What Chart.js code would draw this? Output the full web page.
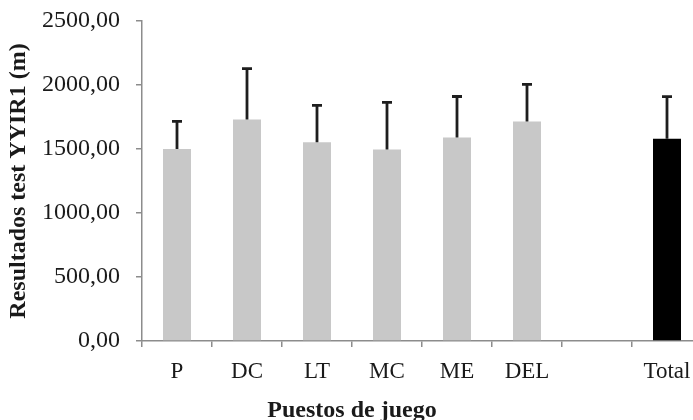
<!DOCTYPE html>
<html>
<head>
<meta charset="utf-8">
<script src="https://cdn.jsdelivr.net/npm/chart.js@4.4.0/dist/chart.umd.min.js"></script>
<style>
  html, body { margin: 0; padding: 0; overflow: hidden; background: #fff; width: 693px; height: 420px; }
  #wrap { position: absolute; left: 0; top: 0; width: 702px; height: 420px; }
</style>
</head>
<body>
<div id="wrap"><canvas id="c" width="702" height="420"></canvas></div>
<script>
const categories = ['P', 'DC', 'LT', 'MC', 'ME', 'DEL', '', 'Total'];
const means = [1500, 1730, 1552, 1497, 1590, 1714, null, 1581];
const sds = [216, 398, 289, 368, 320, 291, null, 328];
const yTickValues = [0, 500, 1000, 1500, 2000, 2500];
const yTitle = 'Resultados test YYIR1 (m)';
const xTitle = 'Puestos de juego';

const FONT = '"Liberation Serif", "Times New Roman", serif';
const AXIS_COLOR = '#8c8c8c';
const TEXT_COLOR = '#1a1a1a';

const errorBars = {
  id: 'errorBars',
  afterDatasetsDraw(chart) {
    const meta = chart.getDatasetMeta(0);
    const ys = chart.scales.y;
    const ctx = chart.ctx;
    ctx.save();
    ctx.strokeStyle = '#1e1e1e';
    ctx.lineWidth = 2.8;
    meta.data.forEach((bar, i) => {
      if (means[i] == null || sds[i] == null) return;
      const x = bar.x;
      const y0 = ys.getPixelForValue(means[i]);
      const y1 = ys.getPixelForValue(means[i] + sds[i]);
      ctx.beginPath();
      ctx.moveTo(x, y0);
      ctx.lineTo(x, y1);
      ctx.moveTo(x - 5, y1);
      ctx.lineTo(x + 5, y1);
      ctx.stroke();
    });
    ctx.restore();
  }
};

const xTitlePlugin = {
  id: 'xTitlePlugin',
  afterDraw(chart) {
    const xs = chart.scales.x;
    const first = xs.getPixelForValue(0);
    const last = xs.getPixelForValue(5);
    const half = (xs.getPixelForValue(1) - first) / 2;
    const cx = ((first - half) + (last + half)) / 2;
    const ctx = chart.ctx;
    ctx.save();
    ctx.font = 'bold 24px ' + FONT;
    ctx.fillStyle = TEXT_COLOR;
    ctx.textAlign = 'center';
    ctx.textBaseline = 'alphabetic';
    ctx.fillText(xTitle, cx, 417);
    ctx.restore();
  }
};

new Chart(document.getElementById('c'), {
  type: 'bar',
  data: {
    labels: categories,
    datasets: [{
      data: means,
      backgroundColor: (c) => categories[c.dataIndex] === 'Total' ? '#000000' : '#c8c8c8',
      borderWidth: 0,
      categoryPercentage: 1,
      barPercentage: 0.4
    }]
  },
  options: {
    responsive: false,
    animation: false,
    devicePixelRatio: 1,
    layout: { padding: { top: 21, right: 0, bottom: 0, left: 0 } },
    plugins: { legend: { display: false }, tooltip: { enabled: false } },
    scales: {
      x: {
        grid: { display: true, drawOnChartArea: false, drawTicks: true, tickLength: 6, color: AXIS_COLOR, lineWidth: 1.5, offset: true },
        border: { display: true, color: AXIS_COLOR, width: 1.5 },
        ticks: { color: TEXT_COLOR, font: { family: FONT, size: 23 }, padding: 11, maxRotation: 0, autoSkip: false },
        afterFit: (s) => { s.height = 79; s.paddingLeft = 0; s.paddingRight = 0; }
      },
      y: {
        min: 0, max: 2500,
        afterBuildTicks: (axis) => { axis.ticks = yTickValues.map(v => ({ value: v })); },
        grid: { display: true, drawOnChartArea: false, drawTicks: true, tickLength: 6, color: AXIS_COLOR, lineWidth: 1.5 },
        border: { display: true, color: AXIS_COLOR, width: 1.5 },
        ticks: {
          color: TEXT_COLOR, font: { family: FONT, size: 24 }, padding: 16,
          callback: (v) => v.toFixed(2).replace('.', ',')
        },
        title: { display: true, text: yTitle, color: TEXT_COLOR, font: { family: FONT, size: 24, weight: 'bold', lineHeight: 1 }, padding: { top: 7, bottom: 0 } },
        afterFit: (s) => { s.width = 142; s.paddingTop = 0; s.paddingBottom = 0; }
      }
    }
  },
  plugins: [errorBars, xTitlePlugin]
});
</script>
</body>
</html>
